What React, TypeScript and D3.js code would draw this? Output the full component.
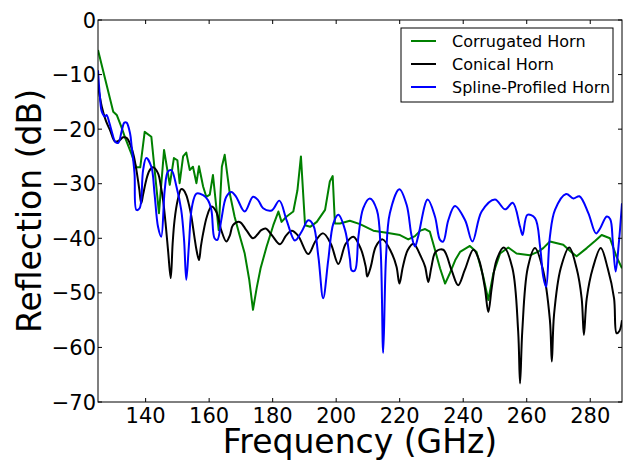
import React from "react";
import * as d3 from "d3";

const corrugatedFreq = [125, 129.8, 130.9, 132.3, 133.5, 135.5, 137, 138.3, 139.7, 141.8, 144.2, 145.8, 147.6, 148.9, 150, 150.7, 151.8, 152.8, 153.9, 154.9, 156, 156.8, 158.1, 159.1, 160.2, 161.2, 163, 164, 164.9, 166.5, 168, 169.6, 171.2, 172.6, 173.8, 175, 176.2, 178.1, 180.2, 181.8, 182.8, 184.4, 186.5, 187.8, 188.9, 190.2, 191.8, 193.9, 196.5, 198, 198.9, 199.6, 201.2, 204.3, 207.5, 211.7, 215.9, 220.1, 222.7, 224.8, 226.5, 228, 229.5, 231.1, 232.7, 234.3, 235.8, 237.5, 239, 242.1, 244.2, 246.3, 247.9, 249.5, 251.6, 254.2, 256.8, 261, 263.5, 265.2, 267.3, 271.5, 274, 275.7, 278.9, 281.5, 283.6, 286.2, 288.3, 290];
const corrugatedDb = [-5.5, -16.8, -17.4, -19.5, -21.5, -24.5, -27, -27, -20.5, -21.4, -35.4, -23.8, -30.2, -25.3, -25.7, -29.9, -25, -24.3, -27.5, -26.9, -29.9, -26.8, -30.5, -32.4, -32, -28.4, -38.5, -26.9, -24.7, -31.8, -36, -39.5, -42.8, -47.5, -53.1, -49, -45.5, -41.5, -37.6, -35.1, -37, -36, -35.1, -31.2, -25, -37.6, -37.9, -37, -34.8, -29.6, -28.6, -37.3, -37.3, -36.8, -37.4, -38.6, -39, -39.4, -40.2, -39.6, -38.6, -38.3, -38.8, -42.1, -45.5, -48.3, -46.4, -44, -42.5, -41.4, -42.5, -47, -51.3, -46.4, -42.8, -41.7, -42.8, -43.1, -42.5, -41.8, -40.6, -41.2, -42.5, -43.3, -41.8, -40.5, -39.4, -40, -43.4, -45.5];

const conicalFreq = [125, 126.2, 127.5, 128.8, 130.4, 131.9, 132.9, 134, 135.3, 136.3, 137.1, 138, 138.6, 139.2, 140.2, 141.2, 142.3, 143.9, 144.8, 145.5, 146.4, 147.1, 147.9, 148.5, 149.1, 150.1, 151.2, 152, 152.8, 153.7, 154.4, 155.3, 156, 156.8, 157.4, 158.1, 159.3, 160.7, 162.2, 163.8, 165.4, 166.5, 167.5, 169.6, 171.7, 173.8, 175.2, 176.4, 177.8, 179.7, 182.3, 184.2, 186, 188, 191.2, 193.5, 195.9, 198.3, 200.7, 203, 205.4, 207.8, 209.3, 209.8, 210.9, 212.5, 214.6, 217.3, 219, 219.9, 221, 222.5, 224.3, 226.8, 228, 229, 230, 231.3, 233.7, 236.3, 238.4, 240.5, 243.2, 245, 246.8, 247.9, 249, 250.5, 252.8, 255.5, 257.3, 257.9, 258.6, 260.3, 262.6, 265, 267.3, 267.9, 268.6, 270.7, 273.4, 275.7, 277.3, 278, 278.9, 280.8, 283.3, 285.5, 287.5, 288.3, 289.2, 290];
const conicalDb = [-12, -15.9, -18.5, -20.2, -22.3, -22, -21.5, -21.6, -23, -25, -27.5, -31, -33.6, -32, -29.3, -27.6, -27, -28.1, -30.5, -33, -38, -42.5, -47.3, -41, -36.7, -33, -31, -31.2, -32.1, -34, -36, -39.5, -42.1, -44, -41.5, -39.1, -36, -34.2, -35.1, -38.5, -40.6, -39.5, -37.6, -37, -38.5, -40, -39.3, -38.5, -38.2, -39.4, -41.1, -39.5, -38.6, -39.5, -42.9, -40.5, -39.1, -41, -44.7, -41, -39.7, -42, -45.2, -47, -45.2, -41.5, -40.2, -42.5, -45.2, -48.3, -45.2, -42.2, -41, -43.5, -45.2, -48, -45.2, -42.5, -42.1, -45.8, -48.6, -45.8, -42.1, -44, -49, -53.5, -49, -44, -41.7, -45.5, -57, -66.6, -57, -45.5, -41.8, -45.5, -55, -62.6, -54, -45.5, -41.7, -45.5, -51, -57.7, -51, -45.5, -41.8, -45.5, -51, -57.4, -57, -55];

const splineFreq = [125, 125.6, 126.2, 127.2, 127.7, 128.6, 129.5, 130.4, 131.4, 132.4, 133.3, 134, 135.1, 135.6, 136.5, 137.1, 138.1, 139.2, 140.2, 141.8, 142.8, 143.9, 144.9, 146, 147, 148.1, 149.7, 151.2, 152.1, 152.8, 153.6, 154.6, 156, 158.1, 159.6, 160.7, 161.7, 162.6, 163.8, 165.4, 167, 168.5, 171.2, 173.8, 175.4, 177, 179.7, 182.1, 184.4, 187, 189.1, 191.2, 192.8, 194.4, 195.9, 197.5, 199.1, 200.7, 202.8, 204.3, 204.9, 205.9, 207, 208.5, 210.6, 212.8, 214, 214.8, 215.7, 216.9, 219.9, 222.2, 223.7, 224.8, 225.8, 228.8, 231.1, 232.7, 233.7, 235.3, 237.4, 240.6, 242.9, 245.8, 250, 253.2, 255.6, 257.9, 258.7, 260.2, 262.6, 264.2, 265.2, 266.1, 267.3, 268.9, 272.4, 274.7, 276.6, 279.4, 281.8, 283.1, 285.2, 286.3, 287.1, 288, 289, 290];
const splineDb = [-9.2, -14, -16.8, -17.7, -17.4, -18.9, -20.8, -22.3, -22.5, -20.5, -18.8, -18.8, -20.8, -23.2, -28.1, -34.8, -34.5, -27.5, -25.3, -26.9, -31.8, -37.9, -39.7, -31.2, -27.8, -27.5, -30.5, -34.8, -40.3, -47.6, -41.5, -34.2, -31.8, -32.1, -33, -34.8, -40, -40.3, -36.7, -32.4, -31.5, -32.4, -35.1, -32.4, -33, -34.5, -34.9, -33.1, -36.7, -40.4, -38.8, -36.7, -37.6, -43.4, -51, -44, -37.3, -35.7, -38.5, -43.7, -45.9, -45.9, -39.7, -34.5, -32.7, -34.8, -42.1, -61, -43.4, -35.4, -31, -33.9, -39.4, -41.5, -39.7, -32.9, -36, -40.3, -40.6, -36.7, -34.1, -36.7, -40.6, -35.1, -32.9, -34.7, -33.5, -37.9, -39.4, -35.7, -36.3, -41.5, -47, -48.9, -39.7, -34.8, -31.9, -32.7, -32.3, -35.4, -39.1, -38.2, -36, -36.5, -40.6, -46.1, -40.9, -33.6];

const xTicks = [140, 160, 180, 200, 220, 240, 260, 280];
const yTicks = [0, -10, -20, -30, -40, -50, -60, -70];
const seriesNames = ["Corrugated Horn", "Conical Horn", "Spline-Profiled Horn"];
const seriesColors = ["#008000", "#000000", "#0000ff"];

const W = 623, H = 460;
const L = 98, R = 622, T = 20, B = 402;
const FONT = "'DejaVu Sans', sans-serif";

export default function App() {
  const x = d3.scaleLinear().domain([125, 290]).range([L, R]);
  const y = d3.scaleLinear().domain([-70, 0]).range([B, T]);

  const mk = (fs: number[], vs: number[], curve: any) =>
    d3.line<number>().x((_, i) => x(fs[i])).y((v) => y(v)).curve(curve)(vs) || "";

  const paths = [
    mk(corrugatedFreq, corrugatedDb, d3.curveLinear),
    mk(conicalFreq, conicalDb, d3.curveCatmullRom.alpha(0.5)),
    mk(splineFreq, splineDb, d3.curveCatmullRom.alpha(0.5)),
  ];

  const tickLen = 4;
  const legX = 401, legY = 28, legW = 212, legH = 74;

  return (
    <svg width={W} height={H} style={{ position: "absolute", left: 0, top: 0, background: "#fff" }} fontFamily={FONT}>
      <rect x={0} y={0} width={W} height={H} fill="#fff" />
      <defs>
        <clipPath id="plotclip">
          <rect x={L} y={T} width={R - L} height={B - T} />
        </clipPath>
      </defs>
      <g clipPath="url(#plotclip)">
        {paths.map((d, i) => (
          <path key={i} d={d} fill="none" stroke={seriesColors[i]} strokeWidth={2} strokeLinejoin="round" />
        ))}
      </g>
      <rect x={L} y={T} width={R - L} height={B - T} fill="none" stroke="#000" strokeWidth={1} />
      {xTicks.map((t) => (
        <g key={"x" + t}>
          <line x1={x(t)} x2={x(t)} y1={B} y2={B - tickLen} stroke="#000" />
          <line x1={x(t)} x2={x(t)} y1={T} y2={T + tickLen} stroke="#000" />
          <text x={x(t)} y={422.5} fontSize={21} textAnchor="middle" fill="#000">{t}</text>
        </g>
      ))}
      {yTicks.map((t) => (
        <g key={"y" + t}>
          <line x1={L} x2={L + tickLen} y1={y(t)} y2={y(t)} stroke="#000" />
          <line x1={R} x2={R - tickLen} y1={y(t)} y2={y(t)} stroke="#000" />
          <text x={96} y={y(t) + 7.5} fontSize={21} textAnchor="end" fill="#000">{t < 0 ? "\u2212" + Math.abs(t) : String(t)}</text>
        </g>
      ))}
      <text x={(L + R) / 2} y={453} fontSize={33} textAnchor="middle" fill="#000">Frequency (GHz)</text>
      <text transform={`translate(41,${(T + B) / 2}) rotate(-90)`} fontSize={33} textAnchor="middle" fill="#000">Reflection (dB)</text>
      <rect x={legX} y={legY} width={legW} height={legH} fill="#fff" stroke="#000" strokeWidth={1} />
      {seriesNames.map((n, i) => (
        <g key={n}>
          <line x1={411} x2={436} y1={41 + i * 23} y2={41 + i * 23} stroke={seriesColors[i]} strokeWidth={2} />
          <text x={452} y={41 + i * 23 + 5.8} fontSize={16} fill="#000">{n}</text>
        </g>
      ))}
    </svg>
  );
}
